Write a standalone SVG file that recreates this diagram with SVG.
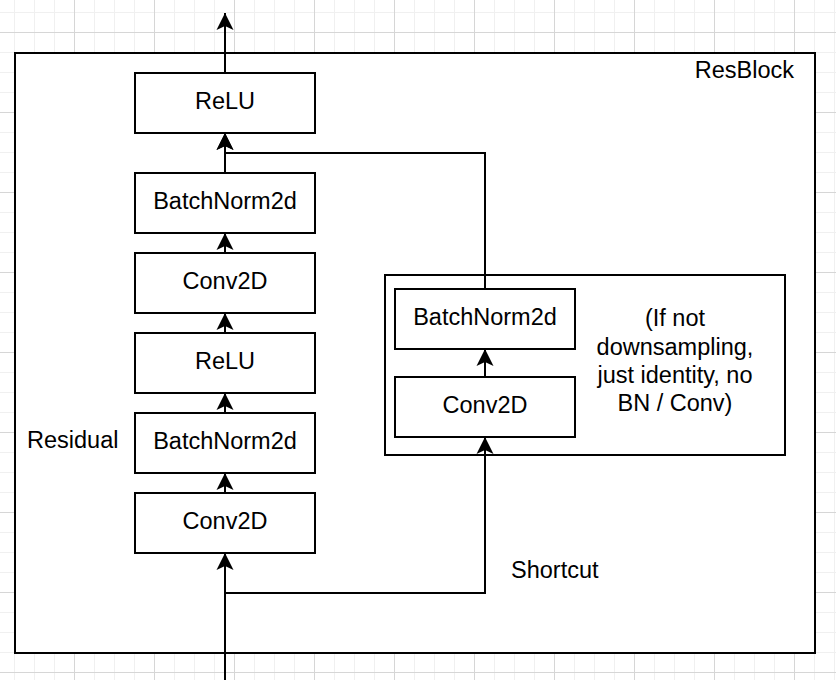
<svg xmlns="http://www.w3.org/2000/svg" width="836" height="680" viewBox="0 0 836 680">
  <style>
    .box { fill: #ffffff; stroke: #000000; stroke-width: 2; }
    .t { font-family: "Liberation Sans", Arial, Helvetica, sans-serif; font-size: 23.5px; fill: #000000; }
    .c { text-anchor: middle; }
    .edge { fill: none; stroke: #000000; stroke-width: 2; }
    .arrow { marker-end: url(#arr); }
  </style>
  <defs>
    <pattern id="minor" patternUnits="userSpaceOnUse" x="14" y="12" width="20" height="20">
      <rect x="0" y="0" width="1" height="20" fill="#f0f0f0"/>
      <rect x="0" y="0" width="20" height="1" fill="#f0f0f0"/>
    </pattern>
    <pattern id="major" patternUnits="userSpaceOnUse" x="74" y="32" width="80" height="80">
      <rect x="0" y="0" width="1" height="80" fill="#d6d6d6"/>
      <rect x="0" y="0" width="80" height="1" fill="#d6d6d6"/>
    </pattern>
    <marker id="arr" viewBox="0 0 17 17" markerWidth="17" markerHeight="17" refX="17" refY="8.5" orient="auto" markerUnits="userSpaceOnUse" overflow="visible">
      <path d="M17 8.5 L0 0 L4 8.5 L0 17 Z" fill="#000000"/>
    </marker>
  </defs>

  <rect x="0" y="0" width="836" height="680" fill="#ffffff"/>
  <rect x="0" y="0" width="836" height="680" fill="url(#minor)"/>
  <rect x="0" y="0" width="836" height="680" fill="url(#major)"/>

  <g id="resblock">
    <rect class="box" x="15" y="53" width="800" height="600"/>
    <text class="t" x="794" y="78" text-anchor="end">ResBlock</text>
  </g>

  <g id="shortcut-container">
    <rect class="box" x="385" y="275" width="400" height="180"/>
  </g>

  <g id="residual-label">
    <text class="t" x="27" y="448">Residual</text>
  </g>
  <g id="shortcut-label">
    <text class="t" x="511" y="578">Shortcut</text>
  </g>
  <g id="note">
    <text class="t c" x="675" y="326">(If not</text>
    <text class="t c" x="675" y="354.5">downsampling,</text>
    <text class="t c" x="675" y="382.5">just identity, no</text>
    <text class="t c" x="675" y="411">BN / Conv)</text>
  </g>

  <g id="relu-out">
    <rect class="box" x="135" y="73" width="180" height="60"/>
    <text class="t c" x="225" y="109">ReLU</text>
  </g>
  <g id="bn2">
    <rect class="box" x="135" y="173" width="180" height="60"/>
    <text class="t c" x="225" y="209">BatchNorm2d</text>
  </g>
  <g id="conv2">
    <rect class="box" x="135" y="253" width="180" height="60"/>
    <text class="t c" x="225" y="289">Conv2D</text>
  </g>
  <g id="relu1">
    <rect class="box" x="135" y="333" width="180" height="60"/>
    <text class="t c" x="225" y="369">ReLU</text>
  </g>
  <g id="bn1">
    <rect class="box" x="135" y="413" width="180" height="60"/>
    <text class="t c" x="225" y="449">BatchNorm2d</text>
  </g>
  <g id="conv1">
    <rect class="box" x="135" y="493" width="180" height="60"/>
    <text class="t c" x="225" y="529">Conv2D</text>
  </g>
  <g id="sc-bn">
    <rect class="box" x="395" y="289" width="180" height="60"/>
    <text class="t c" x="485" y="325">BatchNorm2d</text>
  </g>
  <g id="sc-conv">
    <rect class="box" x="395" y="377" width="180" height="60"/>
    <text class="t c" x="485" y="413">Conv2D</text>
  </g>

  <g id="connectors">
    <path class="edge arrow" d="M225 680 V553"/>
    <path class="edge arrow" d="M225 593 H485 V437"/>
    <path class="edge arrow" d="M225 493 V473"/>
    <path class="edge arrow" d="M225 413 V393"/>
    <path class="edge arrow" d="M225 333 V313"/>
    <path class="edge arrow" d="M225 253 V233"/>
    <path class="edge arrow" d="M225 173 V133"/>
    <path class="edge arrow" d="M485 289 V153 H225 V133"/>
    <path class="edge arrow" d="M225 73 V13"/>
    <path class="edge arrow" d="M485 377 V349"/>
  </g>
</svg>
